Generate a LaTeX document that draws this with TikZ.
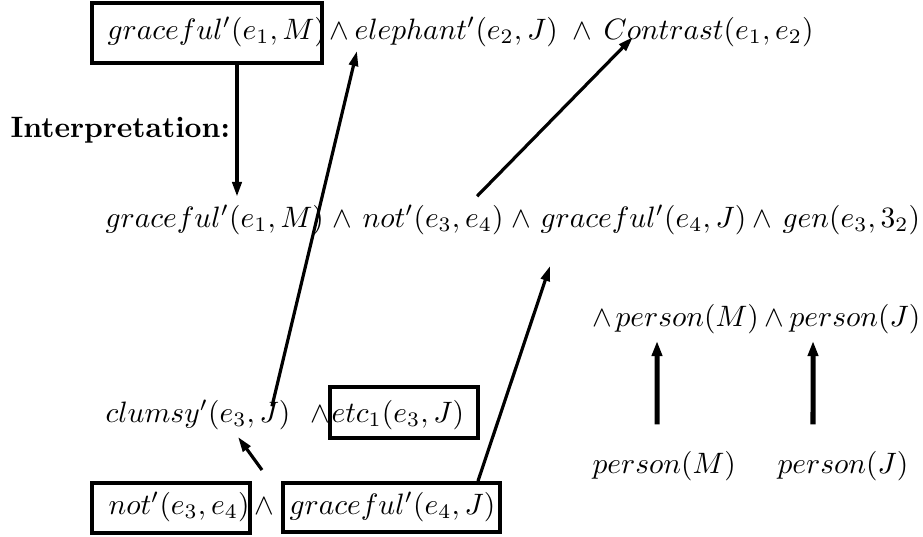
\documentclass[tikz,border=0pt]{standalone}
\usetikzlibrary{arrows.meta}
\begin{document}
\begin{tikzpicture}[x=0.339pt,y=-0.339pt,
  txt/.style={inner sep=0pt, anchor=base west},
  boxnode/.style={draw, line width=1.36pt, inner sep=0pt, anchor=center},
  arr/.style={line width=1.08pt, -{Triangle[length=5.1pt,width=3.05pt]}},
  arrdown/.style={line width=1.36pt, -{Triangle[length=5.1pt,width=3.05pt]}},
  arrthick/.style={line width=1.7pt, -{Triangle[length=5.1pt,width=3.4pt]}}]
\useasboundingbox (0,0) rectangle (923,536);
% top row
\node[txt] (g1t) at (107,39) {$graceful'(e_1,M)$};
\node[txt] (w1) at (329,39) {$\wedge$};
\node[txt] (el) at (354,39) {$elephant'(e_2,J)$};
\node[txt] (w2) at (572,39) {$\wedge$};
\node[txt] (co) at (603,39) {$Contrast(e_1,e_2)$};
\node[boxnode, minimum width=77.97pt, minimum height=20.34pt] (b1) at (207,33) {};
% interpretation
\node[txt] (interp) at (10,137) {\textbf{Interpretation:}};
% middle row
\node[txt] (m1) at (105,227) {$graceful'(e_1,M)$};
\node[txt] (mw1) at (332,227) {$\wedge$};
\node[txt] (m2) at (362,227) {$not'(e_3,e_4)$};
\node[txt] (mw2) at (511,227) {$\wedge$};
\node[txt] (m3) at (540,227) {$graceful'(e_4,J)$};
\node[txt] (mw3) at (752,227) {$\wedge$};
\node[txt] (m4) at (782,227) {$gen(e_3,3_2)$};
% person row
\node[txt] (pw1) at (592,326) {$\wedge$};
\node[txt] (p1) at (615,326) {$person(M)$};
\node[txt] (pw2) at (764,326) {$\wedge$};
\node[txt] (p2) at (789,326) {$person(J)$};
% clumsy row
\node[txt] (c1) at (105,422) {$clumsy'(e_3,J)$};
\node[txt] (cw) at (310,422) {$\wedge$};
\node[txt] (c2) at (331,422) {$etc_1(e_3,J)$};
\node[boxnode, minimum width=50.17pt, minimum height=17.29pt] (b2) at (404,412.5) {};
% persons bottom
\node[txt] (q1) at (592,473) {$person(M)$};
\node[txt] (q2) at (777,473) {$person(J)$};
% bottom row
\node[txt] (n1) at (108,514) {$not'(e_3,e_4)$};
\node[txt] (bw) at (254,514) {$\wedge$};
\node[txt] (n2) at (289,514) {$graceful'(e_4,J)$};
\node[boxnode, minimum width=53.56pt, minimum height=16.95pt] (b3) at (171,508) {};
\node[boxnode, minimum width=73.56pt, minimum height=16.61pt] (b4) at (391.5,507.5) {};
% connectors
\coordinate (a1) at (237,197);
\draw[arrdown] (b1.south -| a1) -- (a1);
\draw[arr] ([xshift=56.61pt,yshift=-2.4pt]c1.north west) -- ([xshift=1.0pt,yshift=-1.36pt]el.south west);
\draw[arr] ([xshift=38.99pt,yshift=2.71pt]m2.north west) -- ([xshift=10.17pt,yshift=0.68pt]co.base west);
\draw[arr] ([xshift=29.32pt]b4.north) -- ([xshift=3.39pt,yshift=-10.51pt]m3.south west);
\draw[arr] ([xshift=30.85pt,yshift=3.73pt]b3.north) -- ([xshift=45.09pt,yshift=-2.37pt]c1.south west);
\draw[arrthick] ([xshift=22.04pt,yshift=8.81pt]q1.north west) -- ([xshift=14.24pt,yshift=-2.37pt]p1.south west);
\draw[arrthick] ([xshift=12.2pt,yshift=8.81pt]q2.north west) -- ([xshift=8.14pt,yshift=-2.37pt]p2.south west);
\end{tikzpicture}
\end{document}
